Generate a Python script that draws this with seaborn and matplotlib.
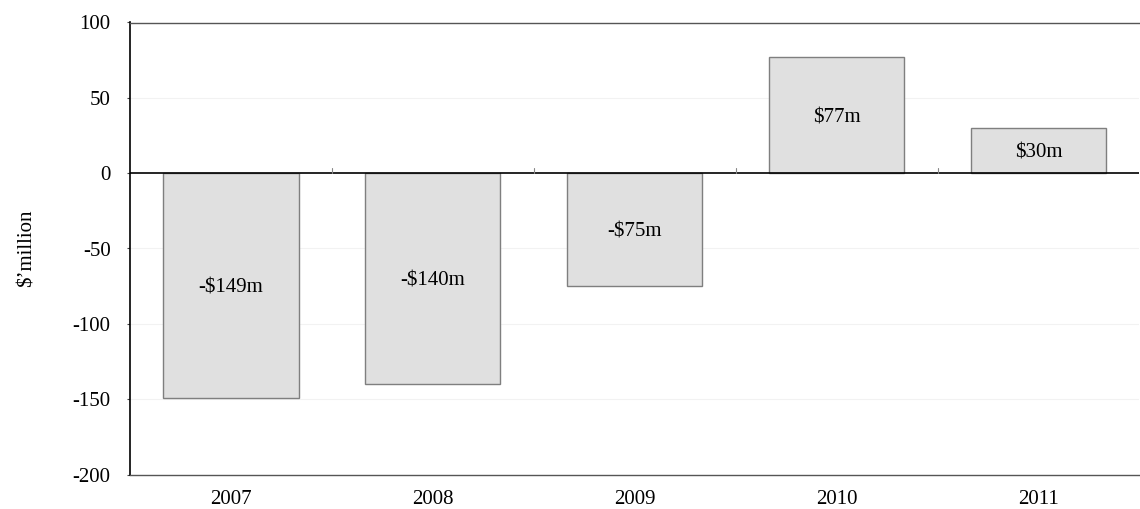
import matplotlib
matplotlib.use("Agg")
import matplotlib.pyplot as plt
import seaborn as sns
import pandas as pd

years = ["2007", "2008", "2009", "2010", "2011"]
values = [-149, -140, -75, 77, 30]
labels = ["-$149m", "-$140m", "-$75m", "$77m", "$30m"]
yticks = [-200, -150, -100, -50, 0, 50, 100]

sns.set_theme(style="white")
plt.rcParams['font.family'] = ['Liberation Serif', 'DejaVu Serif']

df = pd.DataFrame({"year": years, "value": values})

fig = plt.figure(figsize=(11.4, 5.09), dpi=100)
ax = fig.add_axes([130/1140, 1 - 474.5/509, (1140-130)/1140 - 0.0005, (474.5-22.5)/509])

sns.barplot(data=df, x="year", y="value", color="#e0e0e0", width=0.67,
            edgecolor="#7f7f7f", linewidth=1.0, saturation=1, ax=ax, zorder=3)

fs = 15
ax.set_ylim(-200, 100)
ax.set_xlim(-0.5, 4.5)
ax.set_yticks(yticks)
ax.set_yticklabels([str(t) for t in yticks], fontsize=fs, color="black")
ax.tick_params(axis="x", labelsize=fs, length=0, pad=11, labelcolor="black")
ax.tick_params(axis="y", length=2, width=0.8, color="#444444", pad=12, direction="out", left=True)

for t in [-150, -100, -50, 50]:
    ax.axhline(t, color="#f2f2f2", lw=0.8, zorder=1)
ax.axhline(0, color="black", lw=1.2, zorder=4)

# category separator ticks on zero line
for i in range(1, 5):
    ax.plot([i - 0.5, i - 0.5], [0, 3.5], color="#888888", lw=0.8, zorder=4)

for i, (v, lab) in enumerate(zip(values, labels)):
    ax.text(i, v / 2, lab, ha="center", va="center_baseline", fontsize=fs, color="black", zorder=5)

ax.set_xlabel("")
ax.set_ylabel("$\u2019million", fontsize=fs, labelpad=26, color="black")

for s in ["top", "right", "bottom", "left"]:
    ax.spines[s].set_visible(True)
ax.spines["left"].set_color("black")
ax.spines["left"].set_linewidth(1.2)
ax.spines["top"].set_color("#555555")
ax.spines["top"].set_linewidth(1.0)
ax.spines["bottom"].set_color("#555555")
ax.spines["bottom"].set_linewidth(1.0)
ax.spines["right"].set_visible(False)

fig.savefig("out.png", dpi=100)
